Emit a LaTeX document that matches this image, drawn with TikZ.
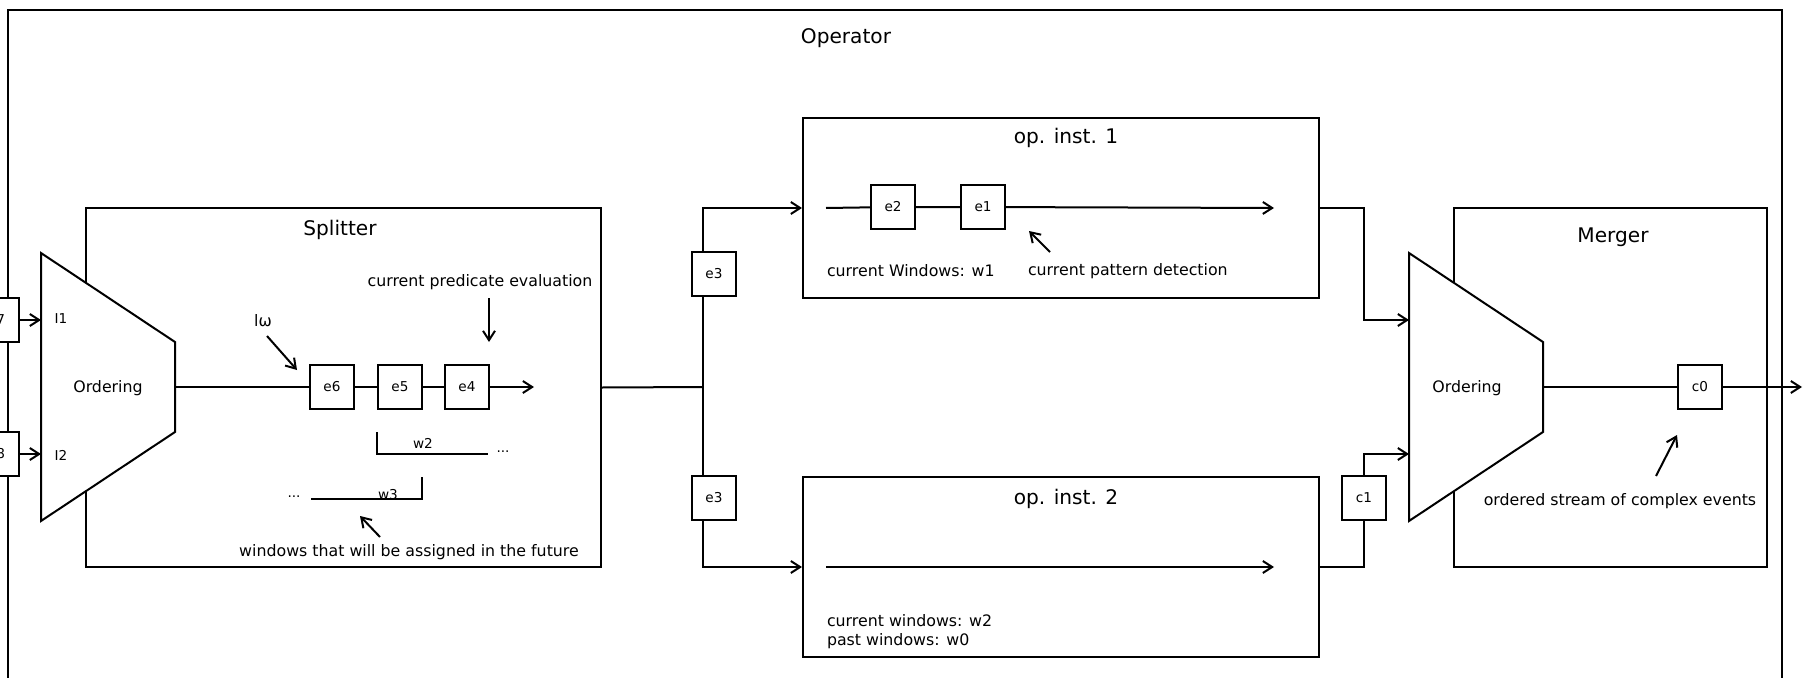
\documentclass[tikz,border=0pt]{standalone}
\usepackage{fontspec}
\setmainfont{DejaVu Sans}
\usetikzlibrary{arrows.meta,fit,calc}

\begin{document}
\begin{tikzpicture}[x=0.75pt, y=-0.75pt, line width=1.5pt,
  >={Straight Barb[length=7pt,width=9pt]},
  frame/.style={draw, inner sep=0pt},
  ev/.style={draw, fill=white, minimum width=33pt, minimum height=32.5pt,
             inner sep=0pt, font=\fontsize{10.2}{12}\selectfont},
  ttl/.style={inner sep=0pt, font=\fontsize{15.1}{18}\selectfont},
  txt/.style={inner sep=0pt, font=\fontsize{11.85}{14}\selectfont},
  sml/.style={inner sep=0pt, font=\fontsize{10.2}{12}\selectfont},
  trap/.style={draw, fill=white, line join=miter},
]
\useasboundingbox (0,0) rectangle (1803,678);
\clip (0,0) rectangle (1803,678);

% ---------- outer operator frame ----------
\node[frame, fit={(8,10) (1782,700)}] (operator) {};
\node[ttl] (operatorTitle) at (846,38) {Operator};

% ---------- splitter ----------
\node[frame, fit={(86,208) (601,567)}] (splitter) {};
\node[ttl] (splitterTitle) at (340,230) {Splitter};

\draw[trap] (41,253) -- (175,342) -- (175,432) -- (41,521) -- cycle;
\coordinate (sIn1) at (41,320);
\coordinate (sIn2) at (41,454);
\coordinate (sOut) at (175,387);
\node[txt] (sOrdering) at (108,388) {Ordering};
\node[sml] (sI1) at (61,319) {I1};
\node[sml] (sI2) at (61,455) {I2};

% incoming events
\node[ev] (e7) at (-3.5,320) {e7};
\node[ev] (e8) at (-3.5,454) {e8};
\draw[->] (e7) -- (sIn1);
\draw[->] (e8) -- (sIn2);

% ordered stream inside the splitter
\node[ev] (e6) at (332,387) {e6};
\node[ev] (e5) at (400,387) {e5};
\node[ev] (e4) at (467,387) {e4};
\coordinate (sEnd) at (534,387);
\draw (sOut) -- (e6) -- (e5) -- (e4);
\draw[->] (e4) -- (sEnd);

\node[txt] (lw) at (263,321) {lω};
\coordinate (lwA) at (267,336);
\coordinate (lwB) at (297,370);
\draw[->] (lwA) -- (lwB);

\node[txt] (cpe) at (480,282) {current predicate evaluation};
\coordinate (cpeA) at (489,298);
\coordinate (cpeB) at (489,342);
\draw[->] (cpeA) -- (cpeB);

% windows
\draw (377,432) -- (377,454) -- (488,454);
\node[sml] (w2) at (423,443) {w2};
\node[sml] (w2dots) at (503,452) {...};
\draw (311,499) -- (422,499) -- (422,477);
\node[sml] (w3) at (388,495) {w3};
\node[sml] (w3dots) at (294,497) {...};
\coordinate (wfA) at (380,537);
\coordinate (wfB) at (360,516);
\draw[->] (wfA) -- (wfB);
\node[txt] (wfut) at (409,552) {windows that will be assigned in the future};

% ---------- operator instances ----------
\node[frame, fit={(803,118) (1319,298)}] (op1) {};
\node[ttl] (op1Title) at (1066,138) {op. inst. 1};
\node[frame, fit={(803,477) (1319,657)}] (op2) {};
\node[ttl] (op2Title) at (1066,499) {op. inst. 2};

% distribution from splitter to instances
\coordinate (fork) at (703,387);
\coordinate (forkT) at (703,208);
\coordinate (forkB) at (703,567);
\draw (splitter.east) -- (fork);
\draw[->] (fork) -- (forkT) -- (op1.west);
\draw[->] (fork) -- (forkB) -- (op2.west);
\node[ev] (e3a) at (714,274) {e3};
\node[ev] (e3b) at (714,498) {e3};

% instance 1 content
\coordinate (o1s) at (826,208);
\coordinate (o1e) at (1274,208);
\node[ev] (e2) at (893,207) {e2};
\node[ev] (e1) at (983,207) {e1};
\draw (o1s) -- (e2) -- (e1);
\draw[->] (e1) -- (o1e);
\coordinate (cpdA) at (1050,252);
\coordinate (cpdB) at (1029,231);
\draw[->] (cpdA) -- (cpdB);
\node[txt, anchor=west] (cw1) at (826,271) {current Windows: w1};
\node[txt, anchor=west] (cpd) at (1027,271) {current pattern detection};

% instance 2 content
\coordinate (o2s) at (826,567);
\coordinate (o2e) at (1274,567);
\draw[->] (o2s) -- (o2e);
\node[txt, anchor=west] (cw2) at (826,621) {current windows: w2};
\node[txt, anchor=west] (pw0) at (826,641) {past windows: w0};

% ---------- merger ----------
\node[frame, fit={(1454,208) (1767,567)}] (merger) {};
\node[ttl] (mergerTitle) at (1613,237) {Merger};
\draw[trap] (1409,253) -- (1543,342) -- (1543,432) -- (1409,521) -- cycle;
\coordinate (mIn1) at (1409,320);
\coordinate (mIn2) at (1409,454);
\coordinate (mOut) at (1543,387);
\coordinate (mBend) at (1364,320);
\node[txt] (mOrdering) at (1467,388) {Ordering};

\node[ev] (c1) at (1364,498) {c1};
\draw[->] (op1.east) -| (mBend) -- (mIn1);
\draw (op2.east) -| (c1);
\draw[->] (c1) |- (mIn2);

\node[ev] (c0) at (1700,387) {c0};
\coordinate (outEnd) at (1802,387);
\draw (mOut) -- (c0);
\draw[->] (c0) -- (outEnd);

\coordinate (osA) at (1656,476);
\coordinate (osB) at (1677,435);
\draw[->] (osA) -- (osB);
\node[txt] (oscx) at (1620,501) {ordered stream of complex events};
\end{tikzpicture}
\end{document}
